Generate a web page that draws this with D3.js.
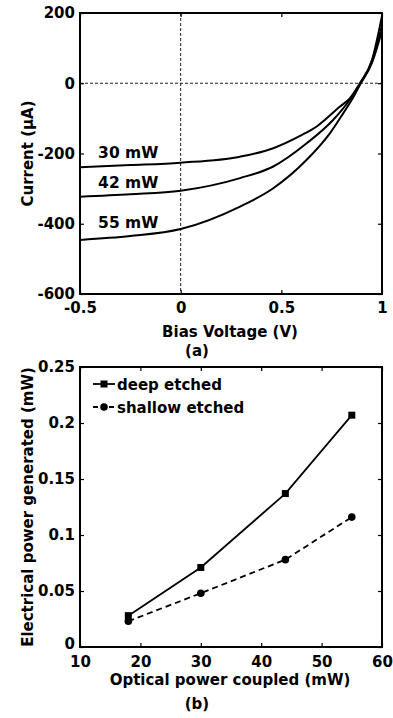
<!DOCTYPE html>
<html>
<head>
<meta charset="utf-8">
<script src="https://cdn.jsdelivr.net/npm/d3@7"></script>
<style>
body { margin: 0; background: #fff; }
svg text { font-family: "DejaVu Sans", "Liberation Sans", Arial, sans-serif; font-weight: bold; fill: #000; }
.tick line { stroke: #000; stroke-width: 1.2; }
</style>
</head>
<body>
<div id="chart"></div>
<script>
// (a) I-V curves
const voltage30 = [-0.5, -0.25, 0, 0.295, 0.46, 0.6, 0.676, 0.79, 0.84, 0.89, 0.95, 1.0];
const current30 = [-239, -233, -226, -209, -185, -148, -123, -67, -43, 0, 66, 192];
const voltage42 = [-0.5, -0.25, 0, 0.295, 0.46, 0.626, 0.758, 0.84, 0.89, 0.95, 1.0];
const current42 = [-323, -316, -306, -270, -237, -171, -104, -47, -2, 62, 165];
const voltage55 = [-0.5, -0.25, 0, 0.295, 0.46, 0.626, 0.742, 0.808, 0.85, 0.89, 0.95, 1.0];
const current55 = [-446, -435, -415, -351, -299, -218, -142, -85, -47, -5, 58, 150];
const curveLabels = ["30 mW", "42 mW", "55 mW"];
const biasTicks = [-0.5, 0, 0.5, 1];
const currentTicks = [-600, -400, -200, 0, 200];

// (b) power
const opticalPower = [18, 30, 44, 55];
const deepEtched = [0.028, 0.071, 0.137, 0.207];
const shallowEtched = [0.023, 0.048, 0.078, 0.116];
const powerTicksX = [10, 20, 30, 40, 50, 60];
const powerTicksY = [0, 0.05, 0.1, 0.15, 0.2, 0.25];

const width = 393, height = 718;
const svg = d3.select("#chart").append("svg")
    .attr("width", width)
    .attr("height", height);

const left = 80, right = 382;
const plain = d => String(d);   // hyphen minus, like the original

// ---------- panel (a) ----------
const aTop = 13, aBottom = 294;
const ax = d3.scaleLinear().domain([-0.5, 1]).range([left, right]);
const ay = d3.scaleLinear().domain([-600, 200]).range([aBottom, aTop]);

const ga = svg.append("g");

// dashed zero lines
ga.append("line")
    .attr("x1", ax(0)).attr("x2", ax(0))
    .attr("y1", aTop).attr("y2", aBottom)
    .attr("stroke", "#222").attr("stroke-width", 1)
    .attr("stroke-dasharray", "3,2");
ga.append("line")
    .attr("x1", left).attr("x2", right)
    .attr("y1", ay(0)).attr("y2", ay(0))
    .attr("stroke", "#222").attr("stroke-width", 1)
    .attr("stroke-dasharray", "3,2");

const ivLine = d3.line()
    .x(d => ax(d[0]))
    .y(d => ay(d[1]))
    .curve(d3.curveMonotoneX);

[[voltage30, current30], [voltage42, current42], [voltage55, current55]].forEach(([v, c]) => {
    ga.append("path")
        .datum(v.map((d, i) => [d, c[i]]))
        .attr("d", ivLine)
        .attr("fill", "none")
        .attr("stroke", "#000")
        .attr("stroke-width", 2);
});

// curve labels
const labelPos = [[-0.41, -213], [-0.41, -298], [-0.41, -412]];
curveLabels.forEach((t, i) => {
    ga.append("text")
        .attr("x", ax(labelPos[i][0]))
        .attr("y", ay(labelPos[i][1]))
        .style("font-size", "15.5px")
        .text(t);
});

// axes
ga.append("g")
    .attr("transform", `translate(0,${aBottom})`)
    .call(d3.axisBottom(ax).tickValues(biasTicks).tickFormat(plain).tickSize(-4).tickPadding(8))
    .call(g => g.select(".domain").remove())
    .selectAll("text").style("font-size", "15px");
ga.append("g")
    .attr("transform", `translate(${left},0)`)
    .call(d3.axisLeft(ay).tickValues(currentTicks).tickFormat(plain).tickSize(-4).tickPadding(5))
    .call(g => g.select(".domain").remove())
    .selectAll("text").style("font-size", "15px");
ga.append("g")
    .attr("transform", `translate(0,${aTop})`)
    .call(d3.axisTop(ax).tickValues(biasTicks).tickFormat("").tickSize(-4))
    .call(g => g.select(".domain").remove());
ga.append("g")
    .attr("transform", `translate(${right},0)`)
    .call(d3.axisRight(ay).tickValues(currentTicks).tickFormat("").tickSize(-4))
    .call(g => g.select(".domain").remove());

ga.append("rect")
    .attr("x", left).attr("y", aTop)
    .attr("width", right - left).attr("height", aBottom - aTop)
    .attr("fill", "none").attr("stroke", "#000").attr("stroke-width", 2);

ga.append("text")
    .attr("x", 230).attr("y", 337)
    .attr("text-anchor", "middle")
    .style("font-size", "15px")
    .text("Bias Voltage (V)");
ga.append("text")
    .attr("x", 197).attr("y", 356)
    .attr("text-anchor", "middle")
    .style("font-size", "15px")
    .text("(a)");
ga.append("text")
    .attr("transform", `translate(33,${(aTop + aBottom) / 2}) rotate(-90)`)
    .attr("text-anchor", "middle")
    .style("font-size", "15px")
    .text("Current (μA)");

// ---------- panel (b) ----------
const bTop = 367, bBottom = 647;
const bx = d3.scaleLinear().domain([10, 60]).range([left, right]);
const by = d3.scaleLinear().domain([0, 0.25]).range([bBottom, bTop]);

const gb = svg.append("g");

const pLine = d3.line()
    .x(d => bx(d[0]))
    .y(d => by(d[1]));

const deepPts = opticalPower.map((p, i) => [p, deepEtched[i]]);
const shallowPts = opticalPower.map((p, i) => [p, shallowEtched[i]]);

gb.append("path")
    .datum(deepPts)
    .attr("d", pLine)
    .attr("fill", "none").attr("stroke", "#000").attr("stroke-width", 1.8);
gb.append("path")
    .datum(shallowPts)
    .attr("d", pLine)
    .attr("fill", "none").attr("stroke", "#000").attr("stroke-width", 1.8)
    .attr("stroke-dasharray", "6,4");

gb.selectAll(".sq").data(deepPts).join("rect")
    .attr("x", d => bx(d[0]) - 3.5)
    .attr("y", d => by(d[1]) - 3.5)
    .attr("width", 7).attr("height", 7)
    .attr("fill", "#000");
gb.selectAll(".dot").data(shallowPts).join("circle")
    .attr("cx", d => bx(d[0]))
    .attr("cy", d => by(d[1]))
    .attr("r", 3.8)
    .attr("fill", "#000");

// legend
const legend = gb.append("g");
legend.append("line")
    .attr("x1", 93).attr("x2", 115).attr("y1", 384).attr("y2", 384)
    .attr("stroke", "#000").attr("stroke-width", 1.8);
legend.append("rect")
    .attr("x", 100.5).attr("y", 380.5).attr("width", 7).attr("height", 7).attr("fill", "#000");
legend.append("text").attr("x", 117).attr("y", 390).style("font-size", "15px").text("deep etched");
legend.append("line")
    .attr("x1", 93).attr("x2", 115).attr("y1", 407).attr("y2", 407)
    .attr("stroke", "#000").attr("stroke-width", 1.8)
    .attr("stroke-dasharray", "5,3");
legend.append("circle")
    .attr("cx", 104).attr("cy", 407).attr("r", 3.8).attr("fill", "#000");
legend.append("text").attr("x", 117).attr("y", 413).style("font-size", "15px").text("shallow etched");

// axes
gb.append("g")
    .attr("transform", `translate(0,${bBottom})`)
    .call(d3.axisBottom(bx).tickValues(powerTicksX).tickFormat(plain).tickSize(-4).tickPadding(9))
    .call(g => g.select(".domain").remove())
    .selectAll("text").style("font-size", "15px");
gb.append("g")
    .attr("transform", `translate(${left},0)`)
    .call(d3.axisLeft(by).tickValues(powerTicksY).tickFormat(plain).tickSize(-4).tickPadding(5))
    .call(g => g.select(".domain").remove())
    .selectAll("text").style("font-size", "15px")
    .filter(d => d === 0).attr("dy", "0.1em");   // keep clear of the "10" label
gb.append("g")
    .attr("transform", `translate(0,${bTop})`)
    .call(d3.axisTop(bx).tickValues(powerTicksX).tickFormat("").tickSize(-4))
    .call(g => g.select(".domain").remove());
gb.append("g")
    .attr("transform", `translate(${right},0)`)
    .call(d3.axisRight(by).tickValues(powerTicksY).tickFormat("").tickSize(-4))
    .call(g => g.select(".domain").remove());

gb.append("rect")
    .attr("x", left).attr("y", bTop)
    .attr("width", right - left).attr("height", bBottom - bTop)
    .attr("fill", "none").attr("stroke", "#000").attr("stroke-width", 2);

gb.append("text")
    .attr("x", 230).attr("y", 685)
    .attr("text-anchor", "middle")
    .style("font-size", "15px")
    .text("Optical power coupled (mW)");
gb.append("text")
    .attr("x", 197).attr("y", 709)
    .attr("text-anchor", "middle")
    .style("font-size", "15px")
    .text("(b)");
gb.append("text")
    .attr("transform", `translate(33,${(bTop + bBottom) / 2}) rotate(-90)`)
    .attr("text-anchor", "middle")
    .style("font-size", "15px")
    .text("Electrical power generated (mW)");
</script>
</body>
</html>
